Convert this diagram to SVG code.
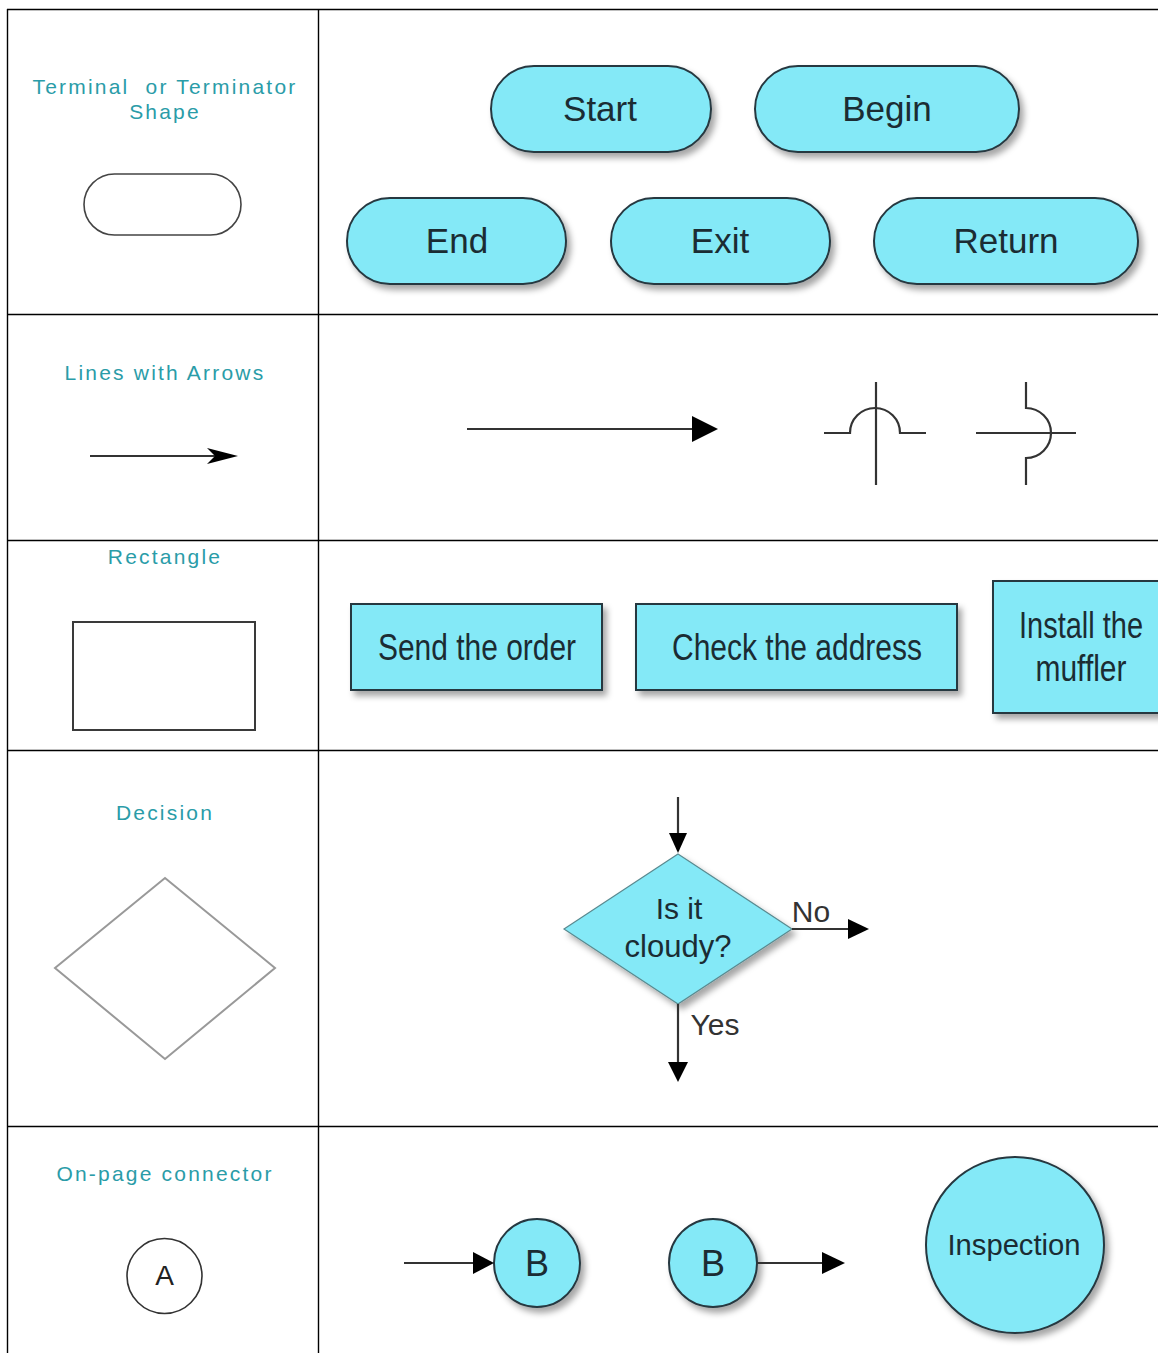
<svg xmlns="http://www.w3.org/2000/svg" width="1158" height="1353" viewBox="0 0 1158 1353">
<style>
.grid{stroke:#000;stroke-width:1.4;fill:none}
.lbl{font-family:"Liberation Sans",Arial,sans-serif;font-size:21px;fill:#2a9ca8;letter-spacing:2.2px;text-anchor:middle}
.shape{fill:#84e9f7;stroke:#263840;stroke-width:2;filter:url(#sh)}
.txt{font-family:"Liberation Sans",Arial,sans-serif;fill:#1b2c33;text-anchor:middle}
.plain{fill:#fff;stroke:#3a3a3a;stroke-width:2}
.ln{stroke:#333;stroke-width:2.2;fill:none}
.hd{fill:#000}
</style>
<defs>
<filter id="sh" x="-20%" y="-20%" width="150%" height="150%">
<feDropShadow dx="4" dy="5" stdDeviation="3" flood-color="#000" flood-opacity="0.35"/>
</filter>
</defs>
<rect width="1158" height="1353" fill="#fff"/>
<g id="table">
<line class="grid" x1="7" y1="9.5" x2="1158" y2="9.5"/>
<line class="grid" x1="7.5" y1="9" x2="7.5" y2="1353"/>
<line class="grid" x1="318.5" y1="9" x2="318.5" y2="1353"/>
<line class="grid" x1="7" y1="314.5" x2="1158" y2="314.5"/>
<line class="grid" x1="7" y1="540.5" x2="1158" y2="540.5"/>
<line class="grid" x1="7" y1="750.5" x2="1158" y2="750.5"/>
<line class="grid" x1="7" y1="1126.5" x2="1158" y2="1126.5"/>
</g>
<g id="labels">
<text class="lbl" x="165" y="94" xml:space="preserve">Terminal  or Terminator</text>
<text class="lbl" x="165" y="119">Shape</text>
<text class="lbl" x="165" y="380">Lines with Arrows</text>
<text class="lbl" x="165" y="564">Rectangle</text>
<text class="lbl" x="165" y="820">Decision</text>
<text class="lbl" x="165" y="1181">On-page connector</text>
</g>
<g id="sample-terminal"><rect x="84" y="174" width="157" height="61" rx="30.5" fill="#fff" stroke="#444" stroke-width="1.6"/></g>
<g id="sample-rectangle"><rect class="plain" x="73" y="622" width="182" height="108"/></g>
<g id="sample-decision"><polygon points="165,878 275,968 165,1059 55,968" fill="#fff" stroke="#999" stroke-width="2"/></g>
<g id="sample-connector"><circle cx="164.5" cy="1276" r="37.5" fill="#fff" stroke="#333" stroke-width="1.6"/><text x="164.5" y="1285" font-family="Liberation Sans,Arial,sans-serif" font-size="28" fill="#222" text-anchor="middle">A</text></g>
<g id="t-start"><rect class="shape" x="491" y="66" width="220" height="86" rx="43"/><text class="txt" x="600" y="121" font-size="35">Start</text></g>
<g id="t-begin"><rect class="shape" x="755" y="66" width="264" height="86" rx="43"/><text class="txt" x="887" y="121" font-size="35">Begin</text></g>
<g id="t-end"><rect class="shape" x="347" y="198" width="219" height="86" rx="43"/><text class="txt" x="457" y="253" font-size="35">End</text></g>
<g id="t-exit"><rect class="shape" x="611" y="198" width="219" height="86" rx="43"/><text class="txt" x="720" y="253" font-size="35">Exit</text></g>
<g id="t-return"><rect class="shape" x="874" y="198" width="264" height="86" rx="43"/><text class="txt" x="1006" y="253" font-size="35">Return</text></g>
<g id="r-send"><rect class="shape" x="351" y="604" width="251" height="86"/><text class="txt" x="477" y="660" font-size="36" textLength="198" lengthAdjust="spacingAndGlyphs">Send the order</text></g>
<g id="r-check"><rect class="shape" x="636" y="604" width="321" height="86"/><text class="txt" x="797" y="660" font-size="36" textLength="250" lengthAdjust="spacingAndGlyphs">Check the address</text></g>
<g id="r-install"><rect class="shape" x="993" y="581" width="180" height="132"/><text class="txt" x="1081" y="638" font-size="36" textLength="124" lengthAdjust="spacingAndGlyphs">Install the</text><text class="txt" x="1081" y="681" font-size="36" textLength="91" lengthAdjust="spacingAndGlyphs">muffler</text></g>
<g id="d-cloudy"><polygon points="678,854 792,929 678,1004 564,929" fill="#84e9f7" stroke="#5a8a90" stroke-width="1.2" filter="url(#sh)"/><text class="txt" x="679" y="919" font-size="30">Is it</text><text class="txt" x="678" y="957" font-size="31">cloudy?</text></g>
<g id="c-b1"><ellipse class="shape" cx="537" cy="1263" rx="43" ry="44"/><text class="txt" x="537" y="1276" font-size="36">B</text></g>
<g id="c-b2"><ellipse class="shape" cx="713" cy="1263" rx="44" ry="44"/><text class="txt" x="713" y="1276" font-size="36">B</text></g>
<g id="c-inspection"><ellipse class="shape" cx="1015" cy="1245" rx="89" ry="88"/><text class="txt" x="1014" y="1255" font-size="30" textLength="133" lengthAdjust="spacingAndGlyphs">Inspection</text></g>
<g id="connectors">
<line class="ln" x1="90" y1="456" x2="222" y2="456"/>
<path class="hd" d="M238,456 L207,448 L215,456 L207,464 Z" fill="#111"/>
<line class="ln" x1="467" y1="429" x2="694" y2="429"/>
<polygon class="hd" points="692,416 718,429 692,442"/>
<line class="ln" x1="876" y1="382" x2="876" y2="485"/>
<path class="ln" d="M824,433 H850 A25,25 0 0 1 900,433 H926"/>
<line class="ln" x1="976" y1="433" x2="1076" y2="433"/>
<path class="ln" d="M1026,382 V408 A25,25 0 0 1 1026,458 V485"/>
<line class="ln" x1="678" y1="797" x2="678" y2="836"/>
<polygon class="hd" points="669,833 687,833 678,853"/>
<line class="ln" x1="792" y1="929" x2="852" y2="929"/>
<polygon class="hd" points="848,919 869,929 848,939"/>
<line class="ln" x1="678" y1="1004" x2="678" y2="1065"/>
<polygon class="hd" points="668,1062 688,1062 678,1082"/>
<line class="ln" x1="404" y1="1263" x2="478" y2="1263"/>
<polygon class="hd" points="473,1252 494,1263 473,1274"/>
<line class="ln" x1="757" y1="1263" x2="826" y2="1263"/>
<polygon class="hd" points="822,1252 845,1263 822,1274"/>
</g>
<g id="edge-labels">
<text x="811" y="922" font-family="Liberation Sans,Arial,sans-serif" font-size="30" fill="#333" text-anchor="middle">No</text>
<text x="715" y="1035" font-family="Liberation Sans,Arial,sans-serif" font-size="30" fill="#333" text-anchor="middle">Yes</text>
</g>
</svg>
